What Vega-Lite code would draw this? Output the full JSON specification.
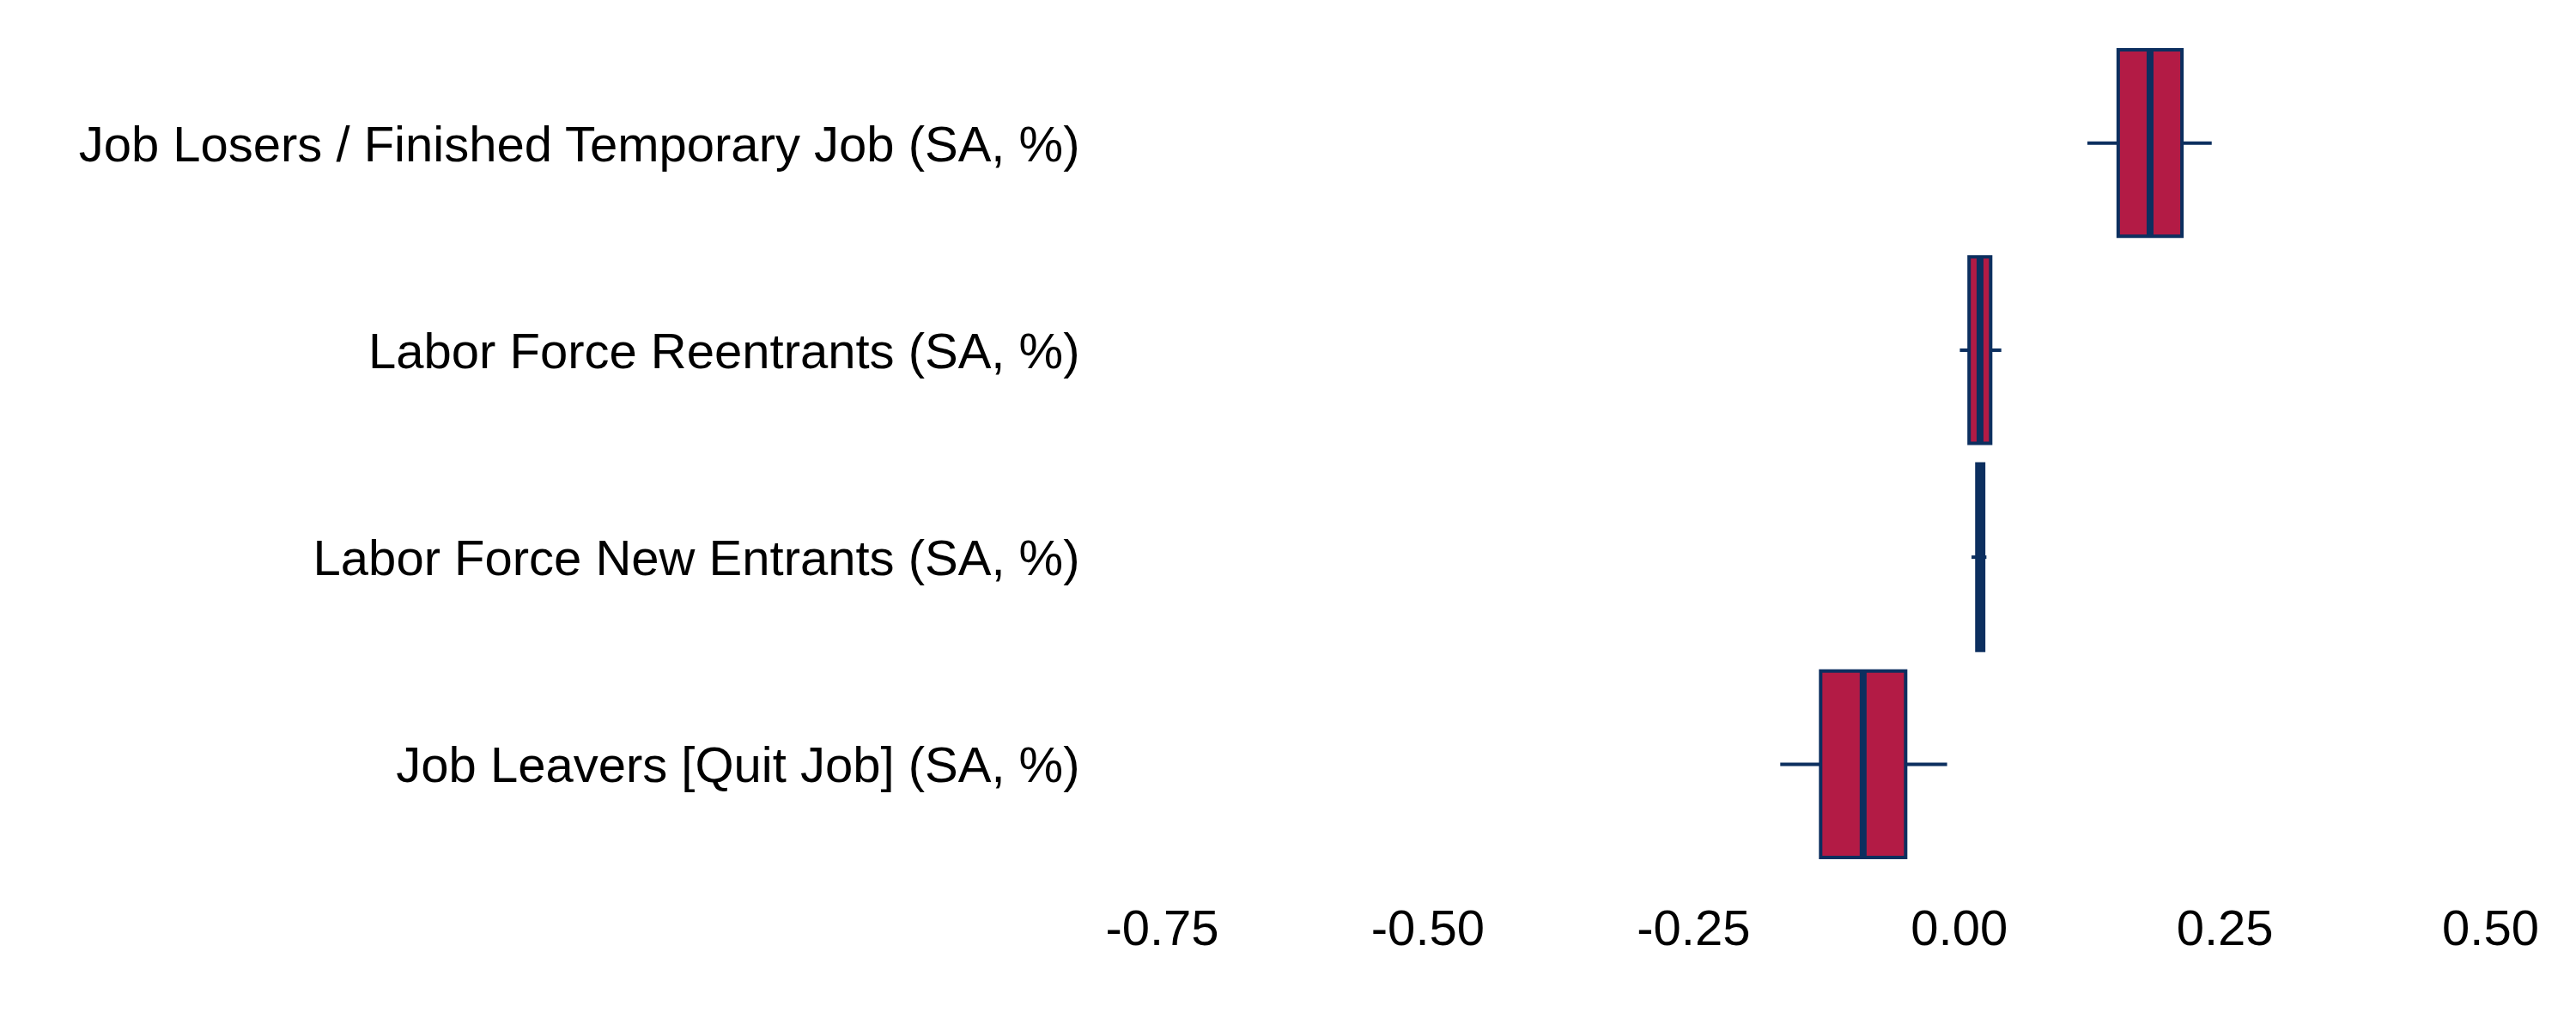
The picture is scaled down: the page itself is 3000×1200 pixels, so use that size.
{
  "$schema": "https://vega.github.io/schema/vega-lite/v6.json",
  "autosize": {"type": "none"},
  "width": 1547,
  "height": 965,
  "padding": {"left": 1353, "top": 46, "right": 100, "bottom": 189},
  "background": "white",
  "config": {"view": {"stroke": null}},
  "data": {
    "values": [
      {"cat": "Job Losers / Finished Temporary Job (SA, %)", "min": 0.121, "q1": 0.150, "median": 0.180, "q3": 0.210, "max": 0.238},
      {"cat": "Labor Force Reentrants (SA, %)", "min": 0.001, "q1": 0.0097, "median": 0.020, "q3": 0.030, "max": 0.040},
      {"cat": "Labor Force New Entrants (SA, %)", "min": 0.012, "q1": 0.017, "median": 0.020, "q3": 0.0234, "max": 0.026},
      {"cat": "Job Leavers [Quit Job] (SA, %)", "min": -0.168, "q1": -0.130, "median": -0.090, "q3": -0.050, "max": -0.011}
    ]
  },
  "encoding": {
    "y": {
      "field": "cat",
      "type": "nominal",
      "sort": null,
      "title": null,
      "scale": {"paddingInner": 0.1, "paddingOuter": 0.05},
      "axis": {
        "domain": false,
        "ticks": false,
        "grid": false,
        "labelFont": "Liberation Sans",
        "labelFontSize": 58,
        "labelColor": "black",
        "labelPadding": 96,
        "labelOffset": 4,
        "labelLimit": 3000
      }
    }
  },
  "layer": [
    {
      "mark": {"type": "rule", "color": "#0C2F5F", "strokeWidth": 4},
      "encoding": {
        "x": {
          "field": "min",
          "type": "quantitative",
          "title": null,
          "scale": {"domain": [-0.75, 0.5], "nice": false, "zero": false},
          "axis": {
            "values": [-0.75, -0.5, -0.25, 0, 0.25, 0.5],
            "labelExpr": "replace(format(datum.value, '.2f'), '\u2212', '-')",
            "domain": false,
            "ticks": false,
            "grid": false,
            "labelFont": "Liberation Sans",
            "labelFontSize": 58,
            "labelColor": "black",
            "labelPadding": 43,
            "labelFlush": false,
            "labelOverlap": false
          }
        },
        "x2": {"field": "max"}
      }
    },
    {
      "mark": {"type": "bar", "fill": "#B31B45", "stroke": "#0C2F5F", "strokeWidth": 4},
      "encoding": {
        "x": {"field": "q1", "type": "quantitative"},
        "x2": {"field": "q3"}
      }
    },
    {
      "mark": {"type": "tick", "color": "#0C2F5F", "thickness": 8, "size": 217, "opacity": 1},
      "encoding": {
        "x": {"field": "median", "type": "quantitative"}
      }
    }
  ]
}
